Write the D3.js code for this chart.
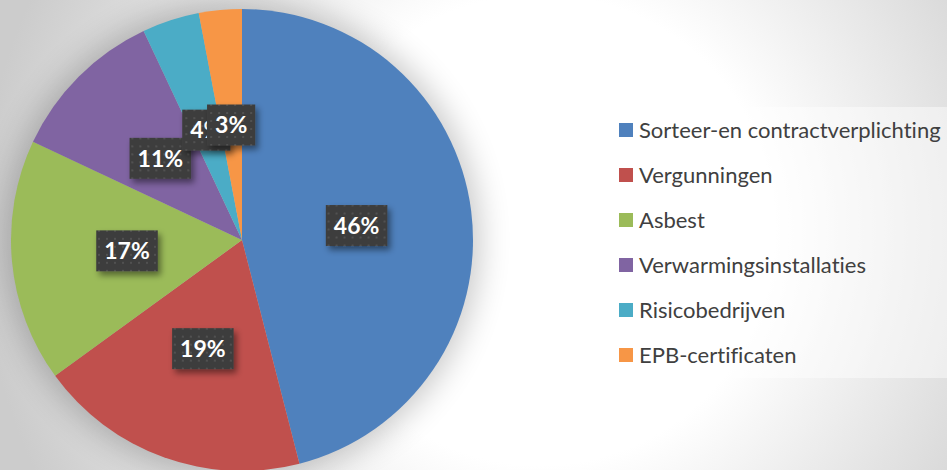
<!DOCTYPE html>
<html>
<head>
<meta charset="utf-8">
<script src="https://cdn.jsdelivr.net/npm/d3@7/dist/d3.min.js"></script>
<style>
  html, body { margin: 0; padding: 0; background: #fff; }
  svg { display: block; }
  text { font-variant-ligatures: none; }
</style>
</head>
<body>
<svg id="chart"></svg>
<script>
// chart data
const categories = ["Sorteer-en contractverplichting", "Vergunningen", "Asbest",
  "Verwarmingsinstallaties", "Risicobedrijven", "EPB-certificaten"];
const shares = [46, 19, 17, 11, 4, 3];
const colors = ["#4f81bd", "#c0504d", "#9bbb59", "#8064a2", "#4bacc6", "#f79646"];

const width = 947, height = 470;
const cx = 242, cy = 240, radius = 231;

const svg = d3.select("#chart")
  .attr("width", width)
  .attr("height", height);

const defs = svg.append("defs");

// background gradient
const bg = defs.append("radialGradient")
  .attr("id", "bg")
  .attr("gradientUnits", "userSpaceOnUse")
  .attr("cx", 540).attr("cy", 230).attr("r", 560);
bg.append("stop").attr("offset", "0%").attr("stop-color", "#ffffff");
bg.append("stop").attr("offset", "42%").attr("stop-color", "#ffffff");
bg.append("stop").attr("offset", "100%").attr("stop-color", "#cccccc");

// soft shadow behind the pie
const pieShadow = defs.append("filter").attr("id", "pieShadow")
  .attr("x", "-30%").attr("y", "-30%").attr("width", "160%").attr("height", "160%");
pieShadow.append("feGaussianBlur").attr("stdDeviation", 16);

// shadow for the labels
const lblShadow = defs.append("filter").attr("id", "lblShadow")
  .attr("x", "-30%").attr("y", "-30%").attr("width", "170%").attr("height", "180%");
lblShadow.append("feDropShadow")
  .attr("dx", 3).attr("dy", 4).attr("stdDeviation", 3)
  .attr("flood-color", "#000").attr("flood-opacity", 0.45);

// dotted fill for the label boxes
const pat = defs.append("pattern")
  .attr("id", "dots")
  .attr("patternUnits", "userSpaceOnUse")
  .attr("width", 8).attr("height", 8);
pat.append("rect").attr("width", 8).attr("height", 8).attr("fill", "#3d3d3d");
pat.append("circle").attr("cx", 4).attr("cy", 4).attr("r", 1.1).attr("fill", "#565656");

svg.append("rect")
  .attr("width", width).attr("height", height)
  .attr("fill", "url(#bg)");

const g = svg.append("g").attr("transform", "translate(" + cx + "," + cy + ")");

g.append("circle")
  .attr("r", radius + 6)
  .attr("fill", "#000")
  .attr("opacity", 0.22)
  .attr("filter", "url(#pieShadow)");

const pie = d3.pie().sort(null).value(d => d);
const arcs = pie(shares);

const arc = d3.arc().innerRadius(0).outerRadius(radius);
const labelArc = d3.arc().innerRadius(radius * 0.5).outerRadius(radius * 0.5);

g.selectAll("path.slice")
  .data(arcs)
  .enter().append("path")
  .attr("class", "slice")
  .attr("d", arc)
  .attr("fill", (d, i) => colors[i]);

// data labels
const lbl = g.selectAll("g.lbl")
  .data(arcs)
  .enter().append("g")
  .attr("class", "lbl")
  .attr("transform", d => "translate(" + labelArc.centroid(d) + ")");

lbl.each(function (d) {
  const el = d3.select(this);
  const box = el.append("rect").attr("fill", "url(#dots)").attr("filter", "url(#lblShadow)");
  const t = el.append("text")
    .attr("text-anchor", "middle")
    .attr("dy", "0.36em")
    .attr("fill", "#ffffff")
    .style("font-family", "Lato, 'Open Sans', sans-serif")
    .style("font-weight", "bold")
    .style("font-size", "23px")
    .text(d.data + "%");
  const w = t.node().getComputedTextLength() + 16;
  const h = 41;
  box.attr("x", -w / 2).attr("y", -h / 2).attr("width", w).attr("height", h);
});

// legend
const legend = svg.append("g").attr("transform", "translate(607,107)");
legend.append("rect")
  .attr("width", 360).attr("height", 271)
  .attr("fill", "#ffffff").attr("opacity", 0.45);

const item = legend.selectAll("g.item")
  .data(categories)
  .enter().append("g")
  .attr("class", "item")
  .attr("transform", (d, i) => "translate(12," + (23 + i * 45) + ")");

item.append("rect")
  .attr("x", 0).attr("y", -7)
  .attr("width", 14).attr("height", 14)
  .attr("fill", (d, i) => colors[i]);

item.append("text")
  .attr("x", 20)
  .attr("dy", "0.36em")
  .attr("fill", "#404040")
  .style("font-family", "Lato, 'Open Sans', sans-serif")
  .style("font-size", "22px")
  .text(d => d);
</script>
</body>
</html>
